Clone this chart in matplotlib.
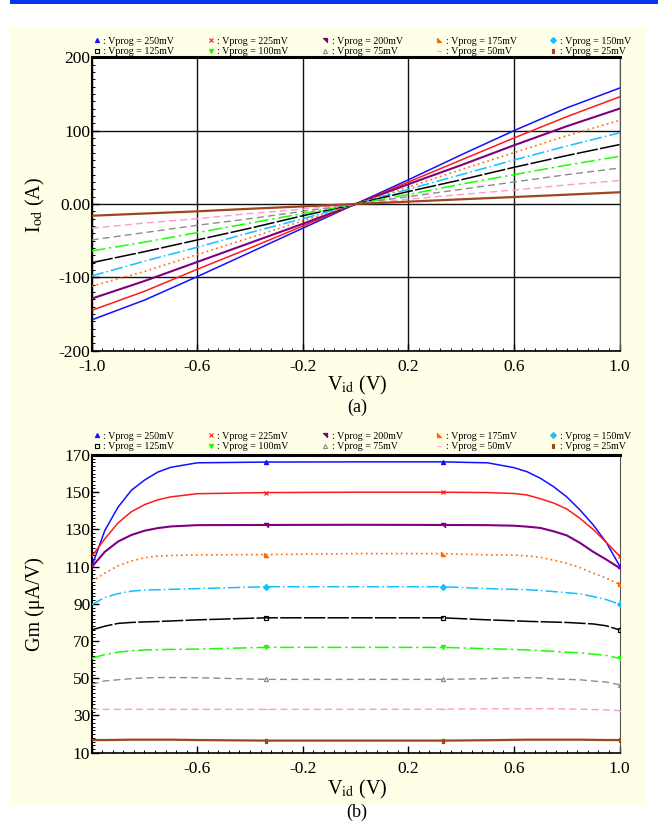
import numpy as np
import matplotlib
matplotlib.use('Agg')
import matplotlib.pyplot as plt
from matplotlib.lines import Line2D
from matplotlib.patches import Rectangle
from matplotlib.ticker import MultipleLocator, FixedLocator

plt.rcParams['font.family'] = ['Liberation Serif', 'DejaVu Serif']
plt.rcParams['mathtext.fontset'] = 'stix'

labels = ['250mV', '225mV', '200mV', '175mV', '150mV',
          '125mV', '100mV', '75mV', '50mV', '25mV']
colors = ['#1010ff', '#ff1a1a', '#800080', '#ff6a00', '#12c0ff',
          '#000000', '#19ff00', '#8c8c8c', '#ff99cc', '#a0461e']

# (a) output current vs differential input voltage
v_a = [-1.0, -0.8, -0.6, -0.4, -0.2, 0.0, 0.2, 0.4, 0.6, 0.8, 1.0]
i_250 = [-158, -131, -99, -66, -33, 0, 33, 67, 100, 131, 158]
i_225 = [-145, -119, -89, -60, -30, 0, 30, 60, 90, 119, 146]
i_200 = [-129, -105, -79, -53, -27, 0, 27, 53, 80, 106, 130]
i_175 = [-112, -92, -69, -46, -23, 0, 23, 47, 70, 93, 114]
i_150 = [-98, -78, -59, -39, -20, 0, 20, 40, 60, 79, 97]
i_125 = [-80, -65, -49, -33, -16, 0, 17, 33, 50, 66, 81]
i_100 = [-64, -52, -39, -26, -13, 0, 13, 27, 40, 53, 65]
i_75 = [-49, -39, -29, -20, -10, 0, 10, 20, 30, 40, 49]
i_50 = [-33, -26, -20, -13, -7, 0, 6.5, 13, 19, 26, 32]
i_25 = [-16, -13, -10, -6.5, -3.3, 0, 3.2, 6.4, 9.5, 12.7, 16]
iod = [i_250, i_225, i_200, i_175, i_150, i_125, i_100, i_75, i_50, i_25]

# (b) transconductance vs differential input voltage
v_b = [-1.0, -0.95, -0.9, -0.85, -0.8, -0.75, -0.7, -0.6, -0.34, 0.0, 0.33,
       0.5, 0.6, 0.65, 0.7, 0.75, 0.8, 0.85, 0.9, 0.95, 1.0]
gm_250 = [110, 129.5, 142, 151, 156.5, 160.8, 163.4, 165.8, 166.2, 166.3, 166.3,
          165.8, 163.2, 161, 157.5, 153, 147.5, 140.5, 132.5, 123, 110.5]
gm_225 = [115.5, 125, 133.5, 139.5, 143.3, 145.9, 147.5, 149.2, 149.8, 150, 150,
          149.8, 149.3, 148.5, 146.5, 144.2, 141, 136, 130, 123, 115.7]
gm_200 = [109.8, 118, 123.5, 127, 129.3, 130.7, 131.6, 132.3, 132.4, 132.5, 132.4,
          132.3, 132, 131.5, 130.8, 129, 126.8, 122.8, 118, 113.8, 109.3]
gm_175 = [102, 106.5, 110.5, 113, 114.8, 115.7, 116, 116.3, 116.5, 117, 117,
          116.3, 116.2, 115.8, 115, 113.5, 111.8, 109.5, 106.5, 103.8, 100.5]
gm_150 = [89.5, 93.5, 95.5, 96.8, 97.4, 97.6, 97.8, 98.2, 99.2, 99.2, 99.2,
          98.2, 97.8, 97.6, 97.2, 96.6, 96, 95.4, 93.9, 92.3, 89.8]
gm_125 = [76, 78, 79.5, 80, 80.3, 80.5, 80.8, 81.4, 82.5, 82.5, 82.5,
          81.4, 80.9, 80.6, 80.4, 80.2, 80, 79.6, 79.2, 78.2, 76]
gm_100 = [60.7, 62.8, 64, 64.8, 65.2, 65.4, 65.5, 65.7, 66.6, 66.6, 66.6,
          65.9, 65.5, 65.2, 64.9, 64.4, 64, 63.7, 63, 62.3, 60.7]
gm_75 = [46.8, 48.6, 49.2, 49.8, 50.2, 50.4, 50.4, 50.3, 49.4, 49.4, 49.4,
         49.8, 50.3, 50.3, 50.2, 49.6, 49.4, 49.2, 48.5, 48, 46.5]
gm_50 = [33.3, 33.3, 33.3, 33.3, 33.3, 33.3, 33.3, 33.3, 33.3, 33.3, 33.4,
         33.6, 33.6, 33.6, 33.6, 33.6, 33.5, 33.4, 33.2, 33, 32.6]
gm_25 = [16.8, 16.8, 16.9, 17.0, 17.0, 17.0, 17.0, 16.8, 16.5, 16.5, 16.5,
         16.7, 16.9, 17.0, 17.0, 17.0, 17.0, 17.0, 16.9, 16.8, 16.8]
gm = [gm_250, gm_225, gm_200, gm_175, gm_150, gm_125, gm_100, gm_75, gm_50, gm_25]

styles = ['-', '-', '-', (0, (1, 2)), (0, (8, 2, 1, 2)),
          (0, (14, 1.5)), (0, (9, 2.5, 1.5, 2.5)), (0, (5, 3)), (0, (5, 3)), '-']
widths = [1.1, 1.1, 1.5, 1.2, 1.1, 1.1, 1.1, 1.0, 1.0, 1.6]

tri_bl = [(-1, -1), (1, -1), (-1, 1), (-1, -1)]
tri_tr = [(-1, 1), (1, 1), (1, -1), (-1, 1)]
vbar = [(-0.5, -1), (0.5, -1), (0.5, 1), (-0.5, 1), (-0.5, -1)]
markers = ['^', 'x', tri_tr, tri_bl, 'D', 's', 'v', '^', '_', vbar]
mfill = [True, True, True, True, True, False, True, False, True, True]

fig = plt.figure(figsize=(6.58, 8.30), dpi=100)
fig.patches.append(Rectangle((10 / 658, 1 - 806 / 830), 636 / 658, 778 / 830,
                             transform=fig.transFigure, facecolor='#fffee6',
                             edgecolor='none', zorder=-10))
fig.patches.append(Rectangle((10 / 658, 1 - 4 / 830), 648 / 658, 4 / 830,
                             transform=fig.transFigure, facecolor='#0a33f0',
                             edgecolor='none', zorder=-10))

ax1 = fig.add_axes([91.7 / 658, 1 - 350.7 / 830, 527.8 / 658, 293.4 / 830])
ax2 = fig.add_axes([91.7 / 658, 1 - 752.7 / 830, 527.8 / 658, 297.7 / 830])

for k in range(10):
    ax1.plot(v_a, iod[k], color=colors[k], ls=styles[k], lw=widths[k], zorder=3)
    ax2.plot(v_b, gm[k], color=colors[k], ls=styles[k], lw=widths[k], zorder=3,
             marker=markers[k], markevery=[8, 10, 20], ms=3,
             mfc=colors[k] if mfill[k] else 'none', mec=colors[k], mew=0.9)

ax1.set_xlim(-1, 1)
ax1.set_ylim(-200, 200)
ax1.xaxis.set_major_locator(FixedLocator([-1.0, -0.6, -0.2, 0.2, 0.6, 1.0]))
ax1.set_xticklabels(['-1.0', '-0.6', '-0.2', '0.2', '0.6', '1.0'])
ax1.yaxis.set_major_locator(FixedLocator([-200, -100, 0, 100, 200]))
ax1.set_yticklabels(['-200', '-100', '0.00', '100', '200'])
ax1.xaxis.set_minor_locator(MultipleLocator(0.04))
ax1.yaxis.set_minor_locator(MultipleLocator(10))
ax1.grid(True, which='major', color='#111111', lw=1.0, zorder=1)

ax2.set_xlim(-1, 1)
ax2.set_ylim(10, 170)
ax2.xaxis.set_major_locator(FixedLocator([-1.0, -0.6, -0.2, 0.2, 0.6, 1.0]))
ax2.set_xticklabels(['', '-0.6', '-0.2', '0.2', '0.6', '1.0'])
ax2.yaxis.set_major_locator(FixedLocator(list(range(10, 171, 20))))
ax2.set_yticklabels([str(t) for t in range(10, 171, 20)])
ax2.xaxis.set_minor_locator(MultipleLocator(0.04))
ax2.yaxis.set_minor_locator(MultipleLocator(2))

for ax in (ax1, ax2):
    ax.tick_params(which='both', direction='in', top=False, right=False,
                   labelsize=12.5)
    ax.tick_params(axis='y', pad=1)
    ax.tick_params(axis='x', pad=6)
    ax.tick_params(which='major', length=5, width=1)
    ax.tick_params(which='minor', length=2.5, width=0.7)
    ax.spines['top'].set_linewidth(2.2)
    ax.spines['left'].set_linewidth(1.5)
    ax.spines['bottom'].set_linewidth(1.2)
    ax.spines['right'].set_linewidth(0.8)
    ax.spines['right'].set_color('#555555')
    ax.set_facecolor('white')

order = [0, 5, 1, 6, 2, 7, 3, 8, 4, 9]
for ax, ylc in ((ax1, 1 - 46.5 / 830), (ax2, 1 - 441.5 / 830)):
    handles = [Line2D([], [], color=colors[k], ls='none', marker=markers[k], ms=3,
                      mfc=colors[k] if mfill[k] else 'none', mec=colors[k], mew=0.8,
                      label=': Vprog = ' + labels[k]) for k in order]
    fig.legend(handles=handles, ncol=5, loc='center left',
               bbox_to_anchor=(93 / 658, ylc), frameon=False, fontsize=7.2,
               handlelength=0.7, handletextpad=0.3, columnspacing=3.3,
               labelspacing=0.15, borderpad=0, borderaxespad=0)

fig.text(357 / 658, 1 - 385 / 830, r'V$_{\mathrm{id}}$ (V)', ha='center', va='center', fontsize=14.5)
fig.text(357 / 658, 1 - 407 / 830, '(a)', ha='center', va='center', fontsize=13)
fig.text(357 / 658, 1 - 789 / 830, r'V$_{\mathrm{id}}$ (V)', ha='center', va='center', fontsize=14.5)
fig.text(357 / 658, 1 - 812 / 830, '(b)', ha='center', va='center', fontsize=13)
fig.text(35 / 658, 1 - 205 / 830, r'I$_{\mathrm{od}}$ (A)', ha='center', va='center',
         rotation=90, fontsize=14.5)
fig.text(35 / 658, 1 - 604 / 830, 'Gm (\u03bcA/V)', ha='center', va='center',
         rotation=90, fontsize=14.5)

fig.savefig('out.png', dpi=100)
